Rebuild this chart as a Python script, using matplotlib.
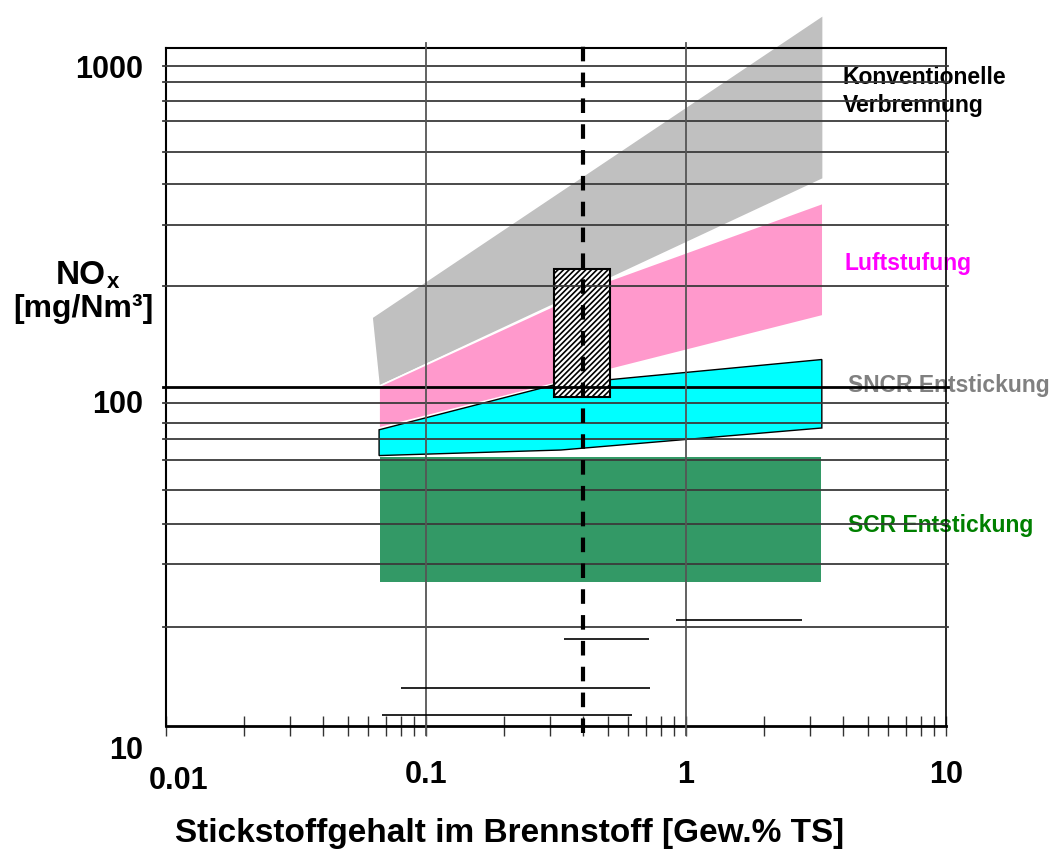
import matplotlib.pyplot as plt
from matplotlib.patches import Rectangle
from matplotlib.ticker import NullFormatter, NullLocator

plt.rcParams['font.family'] = ['Liberation Sans', 'DejaVu Sans']
plt.rcParams['font.weight'] = 'bold'
plt.rcParams['hatch.linewidth'] = 1.2

# NOx ranges [mg/Nm3] over N content of the fuel [wt.% dry]
konv_x = [0.062, 3.37, 3.37, 0.066]
konv_y = [173, 1427, 455, 107]
luft_x = [0.066, 0.50, 3.36, 3.36, 0.066]
luft_y = [107, 223, 384, 175, 80]
sncr_x = [0.066, 0.31, 3.33, 3.33, 0.33, 0.066]
sncr_y = [79, 108, 129, 80, 68.6, 66]
scr_x = [0.0665, 3.3]
scr_y = [27.3, 65.2]

# hatched range and reference N content
box_x = [0.31, 0.51]
box_y = [99, 242]
n_ref = 0.4

# short range bars near the bottom
ranges_x0 = [0.068, 0.080, 0.34, 0.915]
ranges_x1 = [0.62, 0.73, 0.72, 2.8]
ranges_y = [10.8, 13.0, 18.4, 21.0]

# horizontal grid (as drawn in the original) and limit line
grid_y = [1000, 895, 785, 680, 550, 440, 330, 215, 95, 83, 74, 64, 52, 41, 31, 20]
limit_y = 106.5
grid_x = [0.1, 1]

x_ticks = [0.01, 0.1, 1, 10]
x_ticklabels = ['', '0.1', '1', '10']

W, H = 1053, 850
fig = plt.figure(figsize=(W / 100, H / 100), dpi=100)
ax = fig.add_axes([166 / W, 124 / H, 780 / W, 678 / H])
ax.set_xscale('log')
ax.set_yscale('log')
ax.set_xlim(0.01, 10)
ax.set_ylim(10, 1134)

# bands
ax.fill(konv_x, konv_y, facecolor='#c0c0c0', edgecolor='white', lw=1.2, zorder=1, clip_on=False)
ax.fill(luft_x, luft_y, facecolor='#ff99cc', edgecolor='white', lw=1.2, zorder=1.1)
ax.fill(sncr_x, sncr_y, facecolor='#00ffff', edgecolor='black', lw=1.0, zorder=1.2)
ax.fill([scr_x[0], scr_x[1], scr_x[1], scr_x[0]], [scr_y[0], scr_y[0], scr_y[1], scr_y[1]],
        facecolor='#339966', edgecolor='none', zorder=1.2)

ax.add_patch(Rectangle((box_x[0], box_y[0]), box_x[1] - box_x[0], box_y[1] - box_y[0],
                       facecolor='white', edgecolor='black', hatch='//////', lw=1.5, zorder=2))

# grid lines on top of the bands
for v in grid_y:
    ax.axhline(v, xmin=-0.004, xmax=1.003, color='#3a3a3a', lw=1.3, zorder=3, clip_on=False)
ax.axhline(limit_y, xmin=-0.004, xmax=1.003, color='black', lw=2, zorder=3, clip_on=False)
for v in grid_x:
    ax.axvline(v, ymin=-0.013, ymax=1.007, color='#555555', lw=1.3, zorder=3, clip_on=False)

ax.hlines(ranges_y, ranges_x0, ranges_x1, color='black', lw=1.2, zorder=3)

ax.plot([n_ref, n_ref], [9.5, 1180], color='black', lw=3, dashes=(3.5, 2.7),
        zorder=4, clip_on=False)

for s in ax.spines.values():
    s.set_color('black')
ax.spines['bottom'].set_linewidth(2)
ax.spines['left'].set_linewidth(1.5)
ax.spines['top'].set_linewidth(1.5)
ax.spines['right'].set_linewidth(1.2)

ax.set_xticks(x_ticks)
ax.set_xticklabels(x_ticklabels)
ax.xaxis.set_minor_formatter(NullFormatter())
ax.tick_params(axis='x', which='both', direction='inout', length=14.4, width=1.0,
               color='#333333', labelsize=22, pad=17)
ax.yaxis.set_major_locator(NullLocator())
ax.yaxis.set_minor_locator(NullLocator())

# tick labels placed as in the original
fig.text(143 / W, 1 - 78 / H, '1000', ha='right', va='baseline', size=22)
fig.text(143 / W, 1 - 413 / H, '100', ha='right', va='baseline', size=22)
fig.text(143 / W, 1 - 759 / H, '10', ha='right', va='baseline', size=22)
fig.text(179 / W, 1 - 789 / H, '0.01', ha='center', va='baseline', size=22)

# axis titles
fig.text(106 / W, 1 - 284 / H, 'NO', ha='right', va='baseline', size=24)
fig.text(107 / W, 1 - 288 / H, 'x', ha='left', va='baseline', size=16)
fig.text(83 / W, 1 - 317 / H, '[mg/Nm³]', ha='center', va='baseline', size=23)
fig.text(510 / W, 1 - 842 / H, 'Stickstoffgehalt im Brennstoff [Gew.% TS]',
         ha='center', va='baseline', size=24)

# band labels (under the grid lines)
labels = [('Konventionelle', 843, 84, 'black'),
          ('Verbrennung', 843, 112, 'black'),
          ('Luftstufung', 845, 270, '#ff00ff'),
          ('SNCR Entstickung', 848, 392, '#808080'),
          ('SCR Entstickung', 848, 532, '#008000')]
for txt, px, py, col in labels:
    ax.text(px / W, 1 - py / H, txt, transform=fig.transFigure, ha='left', va='baseline',
            size=16.5, color=col, zorder=2.5, clip_on=False)

fig.savefig('out.png', dpi=100)
